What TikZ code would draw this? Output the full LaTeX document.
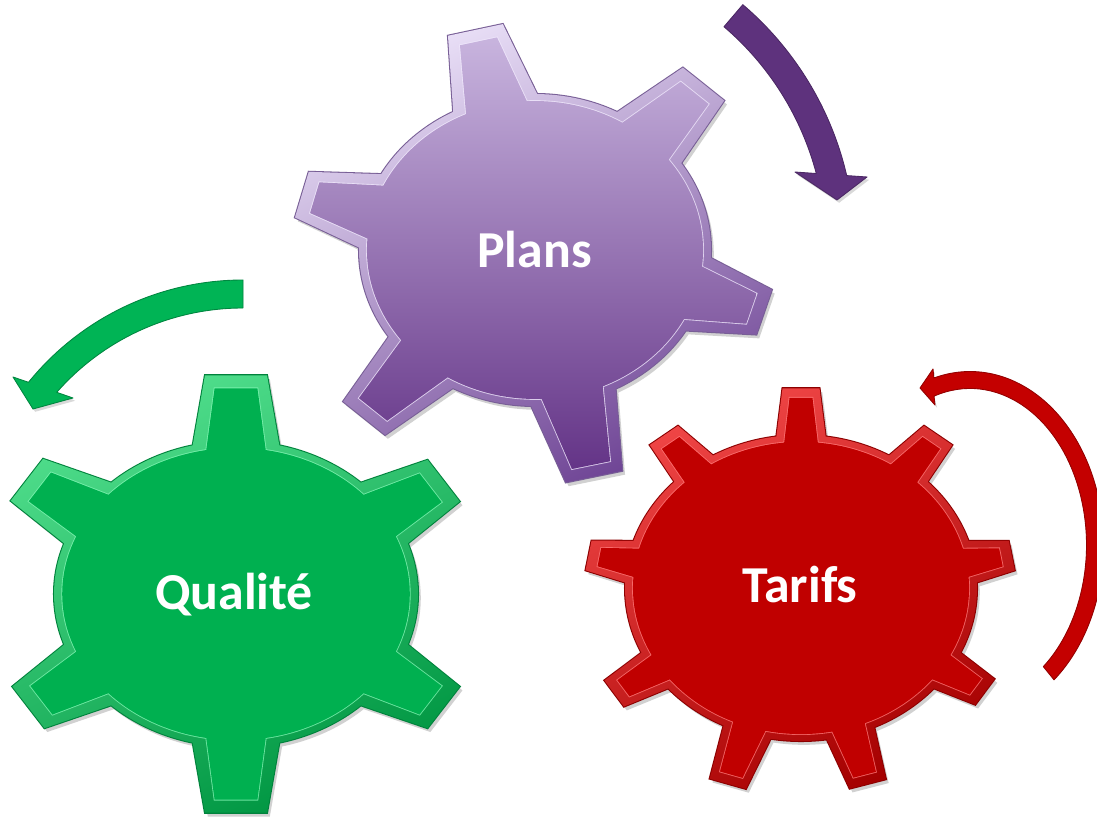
\documentclass[tikz,border=0pt]{standalone}
\usepackage{fontspec}
\newfontfamily\labfont{Carlito}
\usetikzlibrary{calc}
\definecolor{gMain}{RGB}{0,176,80}
\definecolor{gBevL}{RGB}{80,222,140}
\definecolor{gBevD}{RGB}{0,150,66}
\definecolor{gHi}{RGB}{130,245,180}
\definecolor{gOut}{RGB}{0,130,60}
\definecolor{rMain}{RGB}{192,0,0}
\definecolor{rBevL}{RGB}{240,70,70}
\definecolor{rBevD}{RGB}{165,0,0}
\definecolor{rHi}{RGB}{255,120,120}
\definecolor{rOut}{RGB}{140,0,0}
\definecolor{pT}{RGB}{200,180,222}
\definecolor{pB}{RGB}{100,52,135}
\definecolor{pBevT}{RGB}{232,222,246}
\definecolor{pBevB}{RGB}{112,70,150}
\definecolor{pHi}{RGB}{240,232,252}
\definecolor{pOut}{RGB}{120,95,150}
\definecolor{pArrow}{RGB}{94,50,125}
\definecolor{gArrow}{RGB}{0,180,85}
\definecolor{rArrow}{RGB}{196,0,0}
\tikzset{
  % #1 body radius, #2 list angle/tip, #3 base half-angle, #4 tip half-angle, #5 base radius, #6 tip offset
  gear/.style n args={6}{insert path={(0,0) circle[radius=#1]
      \foreach \a/\l in {#2}{ ({\a-#3}:#5) -- ({\a-#4}:{\l#6}) -- ({\a+#4}:{\l#6}) -- ({\a+#3}:#5) -- cycle }}},
  gQo/.style={gear={1}{33/1.37,90/1.44,147/1.37,213/1.38,270/1.44,327/1.37}{14.5}{6.8}{0.97}{+0}},
  gQi/.style={gear={0.955}{33/1.37,90/1.44,147/1.37,213/1.38,270/1.44,327/1.37}{10.5}{5}{0.92}{-0.09}},
  gPo/.style={gear={1}{17/1.37,77/1.50,132/1.46,195/1.38,256.5/1.46,312/1.44}{15}{6.3}{0.97}{+0}},
  gPi/.style={gear={0.955}{17/1.37,77/1.50,132/1.46,195/1.38,256.5/1.46,312/1.44}{11.5}{4.5}{0.92}{-0.08}},
  gRo/.style={gear={1}{33/1.25,73.5/1.34,108/1.35,147/1.27,190/1.23,232/1.27,270/1.31,308/1.27,350/1.22}{8.5}{4.6}{0.97}{+0}},
  gRi/.style={gear={0.955}{33/1.25,73.5/1.34,108/1.35,147/1.27,190/1.23,232/1.27,270/1.31,308/1.27,350/1.22}{6.2}{3.0}{0.92}{-0.065}},
  shadowfill/.style={fill=black, opacity=0.18, shift={(1.6pt,-2.2pt)}},
  hiline/.style={line width=1.0pt, opacity=0.8},
  lab/.style={text=white, inner sep=0pt, anchor=base,
    font=\labfont\bfseries\fontsize{29.5}{35}\selectfont},
  arrowedge/.style={line width=0.5pt, line join=round},
}
\begin{document}
\begin{tikzpicture}[x=0.02cm, y=-0.02cm]
\useasboundingbox (0,0) rectangle (1097,820);
\fill[white] (0,0) rectangle (1097,820);

\coordinate (cP) at (535,250);
\coordinate (cQ) at (236,594);
\coordinate (cR) at (801,588);
\coordinate (pa) at (535,248);
\coordinate (ga) at (243,556);
\coordinate (ra) at (970,545);

% ---- arrows ----
\fill[black, opacity=0.15, shift={(1.2pt,-1.6pt)}]
  ($(pa)+(-49.5:291)$) arc[start angle=-49.5, end angle=-14.83, radius=291]
  -- (795,172) -- (837,200) -- (867,177)
  -- ($(pa)+(-13.08:320)$) arc[start angle=-13.08, end angle=-49.5, radius=320] -- cycle;
\filldraw[fill=pArrow, draw=pArrow!80!black, arrowedge]
  ($(pa)+(-49.5:291)$) arc[start angle=-49.5, end angle=-14.83, radius=291]
  -- (795,172) -- (837,200) -- (867,177)
  -- ($(pa)+(-13.08:320)$) arc[start angle=-13.08, end angle=-49.5, radius=320] -- cycle;

\fill[black, opacity=0.15, shift={(1.2pt,-1.6pt)}]
  ($(ga)+(-90:276)$) arc[start angle=-90, end angle=-141, radius=276]
  -- (13,377) -- (33,409) -- (73,398)
  -- ($(ga)+(-138.7:248)$) arc[start angle=-138.7, end angle=-90, radius=248] -- cycle;
\filldraw[fill=gArrow, draw=gArrow!75!black, arrowedge]
  ($(ga)+(-90:276)$) arc[start angle=-90, end angle=-141, radius=276]
  -- (13,377) -- (33,409) -- (73,398)
  -- ($(ga)+(-138.7:248)$) arc[start angle=-138.7, end angle=-90, radius=248] -- cycle;

\fill[black, opacity=0.15, shift={(1.2pt,-1.6pt)}]
  ($(ra)+(51:133.5 and 173.5)$) arc[start angle=51, end angle=-105.7, x radius=133.5, y radius=173.5]
  -- (933,369) -- (920,388) -- (935,405)
  -- ($(ra)+(-108:116.5 and 156.5)$) arc[start angle=-108, end angle=51, x radius=116.5, y radius=156.5] -- cycle;
\filldraw[fill=rArrow, draw=rArrow!75!black, arrowedge]
  ($(ra)+(51:133.5 and 173.5)$) arc[start angle=51, end angle=-105.7, x radius=133.5, y radius=173.5]
  -- (933,369) -- (920,388) -- (935,405)
  -- ($(ra)+(-108:116.5 and 156.5)$) arc[start angle=-108, end angle=51, x radius=116.5, y radius=156.5] -- cycle;

% ---- purple gear ----
\begin{scope}[shift={(cP)}, x=3.52cm, y=-3.12cm]
  \fill[shadowfill] [gPo];
  \draw[line width=1.2pt, pOut] [gPo];
  \shade[top color=pBevT, bottom color=pBevB, shading angle=25] [gPo];
  \draw[hiline, pHi] [gPi];
  \shade[top color=pT, bottom color=pB] [gPi];
\end{scope}

% ---- green gear ----
\begin{scope}[shift={(cQ)}, x=3.64cm, y=-3.06cm]
  \fill[shadowfill] [gQo];
  \draw[line width=1.2pt, gOut] [gQo];
  \shade[top color=gBevL, bottom color=gBevD, shading angle=25] [gQo];
  \draw[hiline, gHi] [gQi];
  \fill[gMain] [gQi];
\end{scope}

% ---- red gear ----
\begin{scope}[shift={(cR)}, x=3.52cm, y=-3.06cm]
  \fill[shadowfill] [gRo];
  \draw[line width=1.2pt, rOut] [gRo];
  \shade[top color=rBevL, bottom color=rBevD, shading angle=25] [gRo];
  \draw[hiline, rHi] [gRi];
  \fill[rMain] [gRi];
\end{scope}

% ---- labels ----
\node[lab] (tPlans) at (534.5,268) {Plans};
\node[lab] (tQualite) at (234,609) {Qualité};
\node[lab] (tTarifs) at (800,602) {Tarifs};
\end{tikzpicture}
\end{document}
